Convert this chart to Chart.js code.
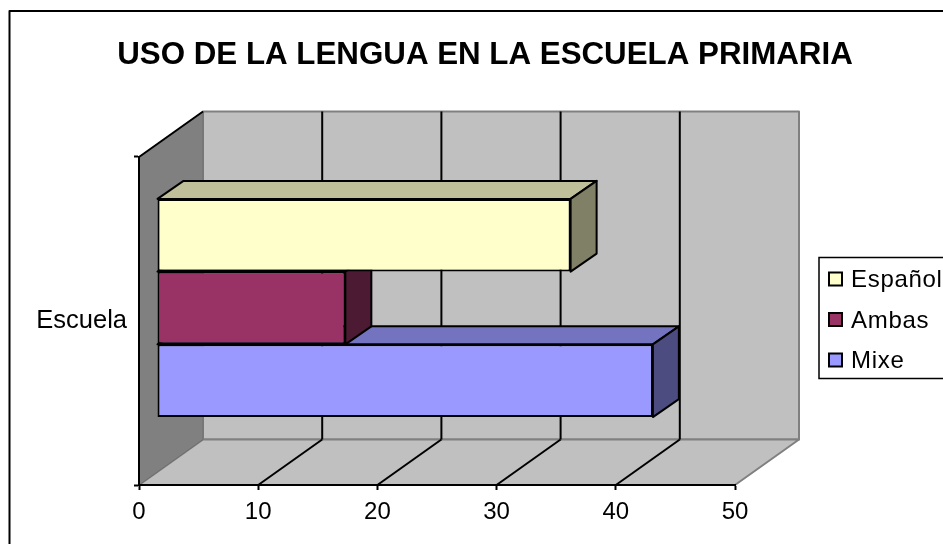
<!DOCTYPE html>
<html>
<head>
<meta charset="utf-8">
<style>
html, body { margin: 0; padding: 0; background: #fff; overflow: hidden; width: 943px; height: 544px; }
canvas { display: block; }
</style>
<script src="https://cdn.jsdelivr.net/npm/chart.js@4/dist/chart.umd.min.js"></script>
</head>
<body>
<canvas id="chart" width="970" height="560" style="width:970px;height:560px"></canvas>
<script>
const categories = ["Escuela"]
const espanol = [34.7]
const ambas = [15.8]
const mixe = [41.6]
const xMax = 50
const xStep = 10

const titleText = "USO DE LA LENGUA EN LA ESCUELA PRIMARIA"
const fontName = "'Liberation Sans', Arial, sans-serif"

// depth of the fake 3d box and of the bars, in pixels
const wallDx = 64, wallDy = -45.5
const barOffX = 18, barOffY = -13
const barDx = 26, barDy = -18

const poly = function(ctx, pts, fill, stroke, lw){
    ctx.beginPath()
    pts.forEach((p,i) => i ? ctx.lineTo(p[0],p[1]) : ctx.moveTo(p[0],p[1]))
    ctx.closePath()
    ctx.fillStyle = fill
    ctx.fill()
    if(stroke){
        ctx.strokeStyle = stroke
        ctx.lineWidth = lw
        ctx.stroke()
    }
}

const line = function(ctx, x1, y1, x2, y2, color, lw){
    ctx.beginPath()
    ctx.moveTo(x1,y1)
    ctx.lineTo(x2,y2)
    ctx.strokeStyle = color
    ctx.lineWidth = lw
    ctx.stroke()
}

const wallsPlugin = {
    id: "walls",
    afterLayout(chart){
        // title sits in the middle of the whole frame, not of the plot
        chart.titleBlock.left = 0
        chart.titleBlock.right = chart.width
    },
    beforeDraw(chart){
        const ctx = chart.ctx
        const a = chart.chartArea
        const sx = chart.scales.x
        ctx.save()
        ctx.lineJoin = "round"
        // outer frame, runs off the page on the right and bottom
        ctx.strokeStyle = "#000"
        ctx.lineWidth = 2
        ctx.strokeRect(9.5, 11, 952, 542)

        // back wall, floor, left wall
        poly(ctx, [[a.left+wallDx,a.top+wallDy],[a.right+wallDx,a.top+wallDy],[a.right+wallDx,a.bottom+wallDy],[a.left+wallDx,a.bottom+wallDy]], "#C0C0C0", "#808080", 2)
        poly(ctx, [[a.left,a.bottom],[a.right,a.bottom],[a.right+wallDx,a.bottom+wallDy],[a.left+wallDx,a.bottom+wallDy]], "#C0C0C0", "#808080", 2)
        poly(ctx, [[a.left,a.top],[a.left+wallDx,a.top+wallDy],[a.left+wallDx,a.bottom+wallDy],[a.left,a.bottom]], "#808080", "#6e6e6e", 1)
        line(ctx, a.left, a.top, a.left+wallDx, a.top+wallDy, "#000", 2)

        // grid on the wall and on the floor
        for(let v = xStep; v < xMax; v += xStep){
            const x = sx.getPixelForValue(v)
            line(ctx, x, a.bottom, x+wallDx, a.bottom+wallDy, "#000", 2)
            line(ctx, x+wallDx, a.bottom+wallDy, x+wallDx, a.top+wallDy, "#000", 2)
        }
        ctx.restore()
    },
    beforeDatasetDraw(chart, args){
        const ctx = chart.ctx
        const ds = chart.data.datasets[args.index]
        const bar = args.meta.data[0]
        const t = bar.y - bar.height/2
        const b = bar.y + bar.height/2
        ctx.save()
        ctx.translate(barOffX, barOffY)
        ctx.lineJoin = "round"
        poly(ctx, [[bar.base,t],[bar.x,t],[bar.x+barDx,t+barDy],[bar.base+barDx,t+barDy]], ds.topColor, "#000", 2)
        poly(ctx, [[bar.x,t],[bar.x+barDx,t+barDy],[bar.x+barDx,b+barDy],[bar.x,b]], ds.sideColor, "#000", 2)
    },
    afterDatasetDraw(chart){
        chart.ctx.restore()
    },
    afterDraw(chart){
        const ctx = chart.ctx
        ctx.save()
        // legend box, also cut by the page edge
        ctx.fillStyle = "#fff"
        ctx.fillRect(819, 257, 140, 121)
        ctx.strokeStyle = "#000"
        ctx.lineWidth = 1.5
        ctx.strokeRect(819, 257.5, 140, 121)
        ctx.font = "24px " + fontName
        ctx.letterSpacing = "0.7px"
        ctx.textBaseline = "middle"
        chart.data.datasets.forEach((ds,i) => {
            const y = 279.5 + i*40.5
            ctx.fillStyle = ds.backgroundColor
            ctx.fillRect(829, y-7, 13, 13)
            ctx.lineWidth = 2
            ctx.strokeRect(829, y-7, 13, 13)
            ctx.fillStyle = "#000"
            ctx.fillText(ds.label, 851, y+1)
        })
        ctx.restore()
    }
}

new Chart(document.getElementById("chart").getContext("2d"), {
    type: "bar",
    data: {
        labels: categories,
        datasets: [
            { label: "Español", data: espanol, backgroundColor: "#FFFFCC", topColor: "#BFBF99", sideColor: "#808066" },
            { label: "Ambas", data: ambas, backgroundColor: "#993366", topColor: "#73264D", sideColor: "#4C1A33" },
            { label: "Mixe", data: mixe, backgroundColor: "#9999FF", topColor: "#7373BF", sideColor: "#4C4C80" }
        ]
    },
    options: {
        indexAxis: "y",
        responsive: false,
        animation: false,
        devicePixelRatio: 1,
        layout: { padding: { left: 10, right: 235, top: 0, bottom: 16 } },
        datasets: { bar: { categoryPercentage: 0.665, barPercentage: 1, borderColor: "#000", borderWidth: 2, borderSkipped: false, clip: false } },
        plugins: {
            legend: { display: false },
            tooltip: { enabled: false },
            title: {
                display: true,
                text: titleText,
                color: "#000",
                font: { family: fontName, size: 31.3, weight: "bold", lineHeight: 1.2 },
                padding: { top: 36.9, bottom: 82.5 }
            }
        },
        scales: {
            x: {
                min: 0,
                max: xMax,
                afterFit: s => { s.height = 59 },
                ticks: { stepSize: xStep, color: "#000", padding: 8, maxRotation: 0, font: { family: fontName, size: 24 } },
                grid: { drawOnChartArea: false, tickLength: 5, tickColor: "#000", tickWidth: 2 },
                border: { color: "#000", width: 2 }
            },
            y: {
                afterFit: s => { s.width = 129 },
                ticks: { color: "#000", padding: 7, font: { family: fontName, size: 25.5 } },
                grid: { drawOnChartArea: false, tickLength: 5, tickColor: "#000", tickWidth: 2 },
                border: { color: "#000", width: 2 }
            }
        }
    },
    plugins: [wallsPlugin]
})
</script>
</body>
</html>
